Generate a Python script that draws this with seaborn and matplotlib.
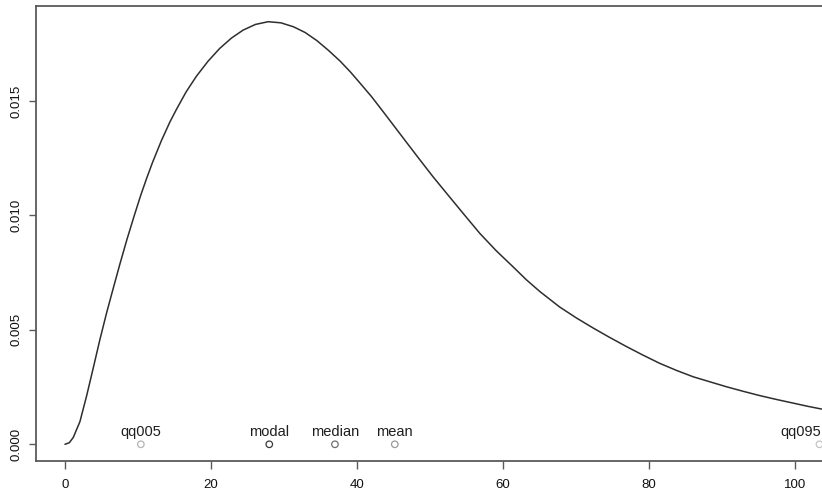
import matplotlib
matplotlib.use("Agg")
import matplotlib.pyplot as plt
import pandas as pd
import seaborn as sns

# Density curve, sampled along x
curve_x = [0, 0.6, 1.14, 2.05, 2.97, 3.88, 4.79, 5.71, 6.6, 7.53, 8.5, 9.5,
           10.4, 11.2, 12.0, 13.2, 14.4, 15.3, 16.6, 18.0, 19.6, 21.2, 22.8,
           24.4, 26.1, 27.85, 29.6, 31.3, 32.9, 34.5, 36.1, 37.7, 39.1, 40.4,
           42.0, 43.6, 45.2, 46.8, 48.6, 50.4, 52.3, 54.6, 56.85, 59.1, 61.4,
           63.2, 65.07, 67.8, 70.1, 72.4, 74.6, 76.9, 79.2, 81.5, 83.8, 86.1,
           88.4, 90.6, 92.9, 95.2, 97.5, 99.8, 101.8, 103.7]
curve_y = [0.0, 0.00007, 0.00030, 0.00099, 0.00212, 0.00334, 0.00458,
           0.00575, 0.00680, 0.00788, 0.00896, 0.01000, 0.01090, 0.01163,
           0.01232, 0.01326, 0.01410, 0.01465, 0.01540, 0.01608, 0.01674,
           0.01730, 0.01775, 0.01810, 0.01835, 0.01847, 0.01842, 0.01825,
           0.01800, 0.01765, 0.01722, 0.01675, 0.01628, 0.01580, 0.01520,
           0.01454, 0.01387, 0.01320, 0.01245, 0.01171, 0.01097, 0.01008,
           0.00922, 0.00846, 0.00776, 0.00720, 0.00668, 0.00600, 0.00552,
           0.00508, 0.00468, 0.00428, 0.00390, 0.00354, 0.00323, 0.00295,
           0.00273, 0.00252, 0.00232, 0.00213, 0.00196, 0.00180, 0.00166,
           0.00154]

# Summary statistics marked on the baseline
stat_names = ["qq005", "modal", "median", "mean", "qq095"]
stat_x = [10.4, 28.0, 37.0, 45.2, 103.4]
stat_y = [0.0, 0.0, 0.0, 0.0, 0.0]
stat_colors = ["#b4b4b4", "#3a3a3a", "#6e6e6e", "#9a9a9a", "#c4c4c4"]

x_ticks = [0, 20, 40, 60, 80, 100]
y_ticks = [0.000, 0.005, 0.010, 0.015]

sns.set_theme(style="ticks")
plt.rcParams["font.family"] = ["Liberation Sans", "DejaVu Sans"]

curve = pd.DataFrame({"x": curve_x, "density": curve_y})
stats = pd.DataFrame({"name": stat_names, "x": stat_x, "y": stat_y})

fig = plt.figure(figsize=(8.22, 4.93), dpi=100)
ax = fig.add_axes([36 / 822, 32.3 / 493, (822 - 36) / 822, (460.7 - 6) / 493])

sns.lineplot(data=curve, x="x", y="density", ax=ax, color="#2e2e2e",
             linewidth=1.1, sort=True)
sns.scatterplot(data=stats, x="x", y="y", hue="name", palette=stat_colors,
                ax=ax, marker="o", s=22, linewidth=0.9,
                legend=False, clip_on=False, zorder=3)
# unfilled circles, each outlined in its own grey
coll = ax.collections[-1]
coll.set_facecolor("none")
coll.set_edgecolor(stat_colors)

for name, xv, yv in zip(stat_names, stat_x, stat_y):
    if name == "qq095":
        # last label sits at the right edge, so align it to the right
        ax.annotate(name, (xv, yv), xytext=(2, 8), textcoords="offset pixels",
                    ha="right", va="baseline", fontsize=10.5, color="#1e1e1e")
    else:
        ax.annotate(name, (xv, yv), xytext=(0, 8), textcoords="offset pixels",
                    ha="center", va="baseline", fontsize=10.5, color="#1e1e1e")

ax.set_xlim(-3.97, 103.75)
ax.set_ylim(-0.000717, 0.019156)
ax.set_xticks(x_ticks)
ax.set_xticklabels([str(t) for t in x_ticks])
ax.set_yticks(y_ticks)
ax.set_yticklabels([f"{t:.3f}" for t in y_ticks], rotation=90, va="center")
ax.set_xlabel("")
ax.set_ylabel("")

for side in ["left", "top", "bottom"]:
    ax.spines[side].set_color("#5a5a5a")
    ax.spines[side].set_linewidth(1.3)
ax.spines["right"].set_visible(False)

ax.tick_params(axis="x", length=6, width=1.0, color="#5a5a5a", pad=7,
               labelsize=9.5, labelcolor="#111111")
ax.tick_params(axis="y", length=5, width=1.0, color="#5a5a5a", pad=5,
               labelsize=9.5, labelcolor="#111111")

fig.savefig("out.png", dpi=100)
